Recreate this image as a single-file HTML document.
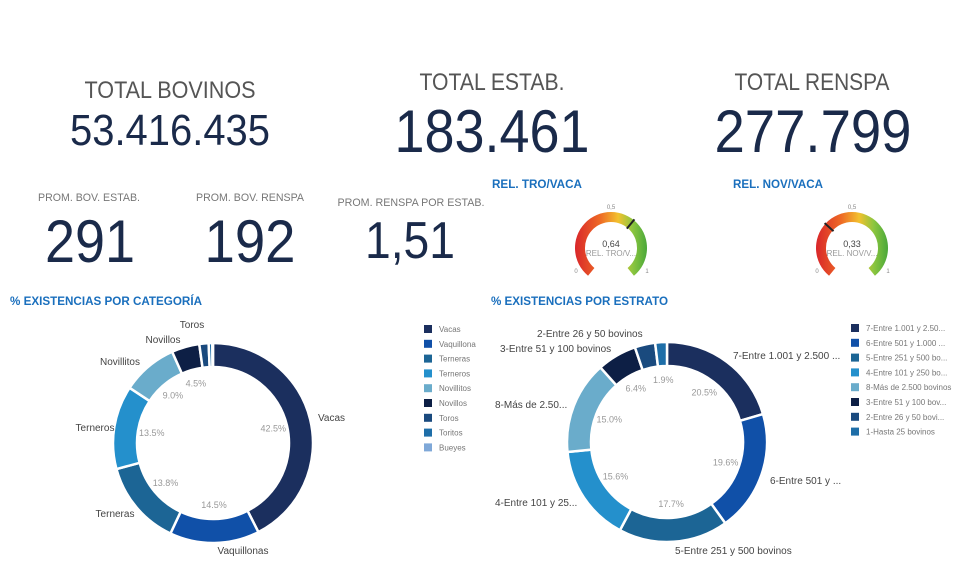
<!DOCTYPE html>
<html><head><meta charset="utf-8"><style>
body{margin:0;background:#fff;}
svg{display:block;font-family:"Liberation Sans",sans-serif;}
</style></head><body>
<svg id="s" width="970" height="563" viewBox="0 0 970 563">
<g fill="#555" font-size="24" text-anchor="middle">
<text x="170" y="98" textLength="171" lengthAdjust="spacingAndGlyphs">TOTAL BOVINOS</text>
<text x="492" y="90" textLength="145" lengthAdjust="spacingAndGlyphs">TOTAL ESTAB.</text>
<text x="812" y="90" textLength="155" lengthAdjust="spacingAndGlyphs">TOTAL RENSPA</text>
</g>
<g fill="#1a2a4a" text-anchor="middle">
<text x="170" y="145" font-size="44" textLength="200" lengthAdjust="spacingAndGlyphs">53.416.435</text>
<text x="492" y="152" font-size="60" textLength="195" lengthAdjust="spacingAndGlyphs">183.461</text>
<text x="813" y="152" font-size="60" textLength="197" lengthAdjust="spacingAndGlyphs">277.799</text>
<text x="90" y="262" font-size="60" textLength="90" lengthAdjust="spacingAndGlyphs">291</text>
<text x="250" y="262" font-size="60" textLength="91" lengthAdjust="spacingAndGlyphs">192</text>
<text x="410" y="258" font-size="52" textLength="90" lengthAdjust="spacingAndGlyphs">1,51</text>
</g>
<g fill="#777" font-size="11" text-anchor="middle">
<text x="89" y="201" textLength="102" lengthAdjust="spacingAndGlyphs">PROM. BOV. ESTAB.</text>
<text x="250" y="201" textLength="108" lengthAdjust="spacingAndGlyphs">PROM. BOV. RENSPA</text>
<text x="411" y="206" textLength="147" lengthAdjust="spacingAndGlyphs">PROM. RENSPA POR ESTAB.</text>
</g>
<g fill="#1a6fbd" font-size="12" font-weight="bold">
<text x="492" y="188" textLength="90" lengthAdjust="spacingAndGlyphs">REL. TRO/VACA</text>
<text x="733" y="188" textLength="90" lengthAdjust="spacingAndGlyphs">REL. NOV/VACA</text>
<text x="10" y="305" textLength="192" lengthAdjust="spacingAndGlyphs">% EXISTENCIAS POR CATEGORÍA</text>
<text x="491" y="305" textLength="177" lengthAdjust="spacingAndGlyphs">% EXISTENCIAS POR ESTRATO</text>
</g>
<defs>
<linearGradient id="gg" x1="0" y1="0" x2="1" y2="0">
<stop offset="0" stop-color="#d9262a"/><stop offset="0.35" stop-color="#ee6a25"/><stop offset="0.6" stop-color="#f2c12e"/><stop offset="0.8" stop-color="#8cc63f"/><stop offset="1" stop-color="#4aa83a"/>
</linearGradient>
</defs>
<g id="gauges"></g>
<g id="d1"></g>
<g id="d2"></g>
</svg>
<script>
const catNames=["Vacas","Vaquillonas","Terneras","Terneros","Novillitos","Novillos","Toros","Toritos","Bueyes"];
const catValues=[42.5,14.5,13.8,13.5,9.0,4.5,1.5,0.6,0.1];
const catPctLabels=["42.5%","14.5%","13.8%","13.5%","9.0%","4.5%","","",""];
const estNames=["7-Entre 1.001 y 2.500 bovinos","6-Entre 501 y 1.000 bovinos","5-Entre 251 y 500 bovinos","4-Entre 101 y 250 bovinos","8-Más de 2.500 bovinos","3-Entre 51 y 100 bovinos","2-Entre 26 y 50 bovinos","1-Hasta 25 bovinos"];
const estValues=[20.5,19.6,17.7,15.6,15.0,6.4,3.3,1.9];
const estPctLabels=["20.5%","19.6%","17.7%","15.6%","15.0%","6.4%","","1.9%"];
const gaugeNames=["REL. TRO/V...","REL. NOV/V..."];
const gaugeValues=[0.64,0.33];
const gaugeValueLabels=["0,64","0,33"];

const NS="http://www.w3.org/2000/svg";
function el(tag,attrs,parent){const e=document.createElementNS(NS,tag);for(const k in attrs)e.setAttribute(k,attrs[k]);parent.appendChild(e);return e;}
const colors1=["#1b2f5e","#1050a8","#1c6595","#2490cc","#6aaccb","#0d1f45","#1a4a7e","#1e6ea8","#7fa8d8"];
const colors2=["#1b2f5e","#1050a8","#1c6595","#2490cc","#6aaccb","#0d1f45","#1a4a7e","#1e6ea8"];
function pt(cx,cy,r,a){return [cx+r*Math.sin(a),cy-r*Math.cos(a)];}
function arcPath(cx,cy,ro,ri,a0,a1){
  const p1=pt(cx,cy,ro,a0),p2=pt(cx,cy,ro,a1),p3=pt(cx,cy,ri,a1),p4=pt(cx,cy,ri,a0);
  const lg=(a1-a0)>Math.PI?1:0;
  return `M${p1}A${ro},${ro} 0 ${lg} 1 ${p2}L${p3}A${ri},${ri} 0 ${lg} 0 ${p4}Z`;
}
function donut(g,cx,cy,vals,cols,pcts,prefix){
  const tot=vals.reduce((a,b)=>a+b,0);let a=0;
  vals.forEach((v,i)=>{
    const a1=a+v/tot*2*Math.PI;
    const p=el('path',{d:arcPath(cx,cy,100,76,a,a1),fill:cols[i],stroke:'#fff','stroke-width':2.5},g);
    
    
    if(pcts[i]){const m=pt(cx,cy,62,(a+a1)/2);
      const t=el('text',{x:m[0],y:m[1]+3,'font-size':9,fill:'#999','text-anchor':'middle'},g);t.textContent=pcts[i];
      
      }
    a=a1;
  });
}
const d1=document.getElementById('d1'),d2=document.getElementById('d2');
donut(d1,213,443,catValues,colors1,catPctLabels,'categoria');
donut(d2,667,442,estValues,colors2,estPctLabels,'estrato');
const catOut=[["Vacas",318,421,"start"],["Vaquillonas",243,554,"middle"],["Terneras",115,517,"middle"],["Terneros",95,431,"middle"],["Novillitos",120,365,"middle"],["Novillos",163,343,"middle"],["Toros",192,328,"middle"]];
catOut.forEach(o=>{const t=el('text',{x:o[1],y:o[2],'font-size':10,fill:'#444','text-anchor':o[3]},d1);t.textContent=o[0];

});
const estOut=[["7-Entre 1.001 y 2.500 ...",733,359],["6-Entre 501 y ...",770,484],["5-Entre 251 y 500 bovinos",675,554],["4-Entre 101 y 25...",495,506],["8-Más de 2.50...",495,408],["3-Entre 51 y 100 bovinos",500,352],["2-Entre 26 y 50 bovinos",537,337]];
estOut.forEach(o=>{const t=el('text',{x:o[1],y:o[2],'font-size':10,fill:'#444'},d2);t.textContent=o[0];

});
catNames.forEach((n,i)=>{const y=325+i*14.8;
 const r=el('rect',{x:424,y:y,width:8,height:8,fill:colors1[i]},d1);
 
 
 const t=el('text',{x:439,y:y+7,'font-size':8,fill:'#777'},d1);t.textContent=n.length>10?n.slice(0,10):n;
 
 });
estNames.forEach((n,i)=>{const y=324+i*14.8;
 const r=el('rect',{x:851,y:y,width:8,height:8,fill:colors2[i]},d2);
 
 
 const t=el('text',{x:866,y:y+7,'font-size':8,fill:'#777'},d2);t.textContent=n.length>22?n.slice(0,20)+'...':n;
 
 });
const gg=document.getElementById('gauges');const gcx=[611,852];
gaugeValues.forEach((v,i)=>{const cx=gcx[i],cy=248,span=2.45;
 const g=el('g',{},gg);
 
 
 const p=el('path',{d:arcPath(cx,cy,36,26,-span,span),fill:'url(#gg)'},g);
 
 
 const a=-span+v*2*span,n1=pt(cx,cy,25,a),n2=pt(cx,cy,37,a);
 const ln=el('line',{x1:n1[0],y1:n1[1],x2:n2[0],y2:n2[1],stroke:'#222','stroke-width':2},g);
 
 
 [[gaugeValueLabels[i],cx,247,9,'#444'],[gaugeNames[i],cx,256,8,'#999'],["0",cx-35,273,6,'#888'],["1",cx+36,273,6,'#888'],["0,5",cx,209,6,'#888']].forEach(o=>{
  const t=el('text',{x:o[1],y:o[2],'font-size':o[3],fill:o[4],'text-anchor':'middle'},g);t.textContent=o[0];
  
  });
});
</script>
</body></html>
